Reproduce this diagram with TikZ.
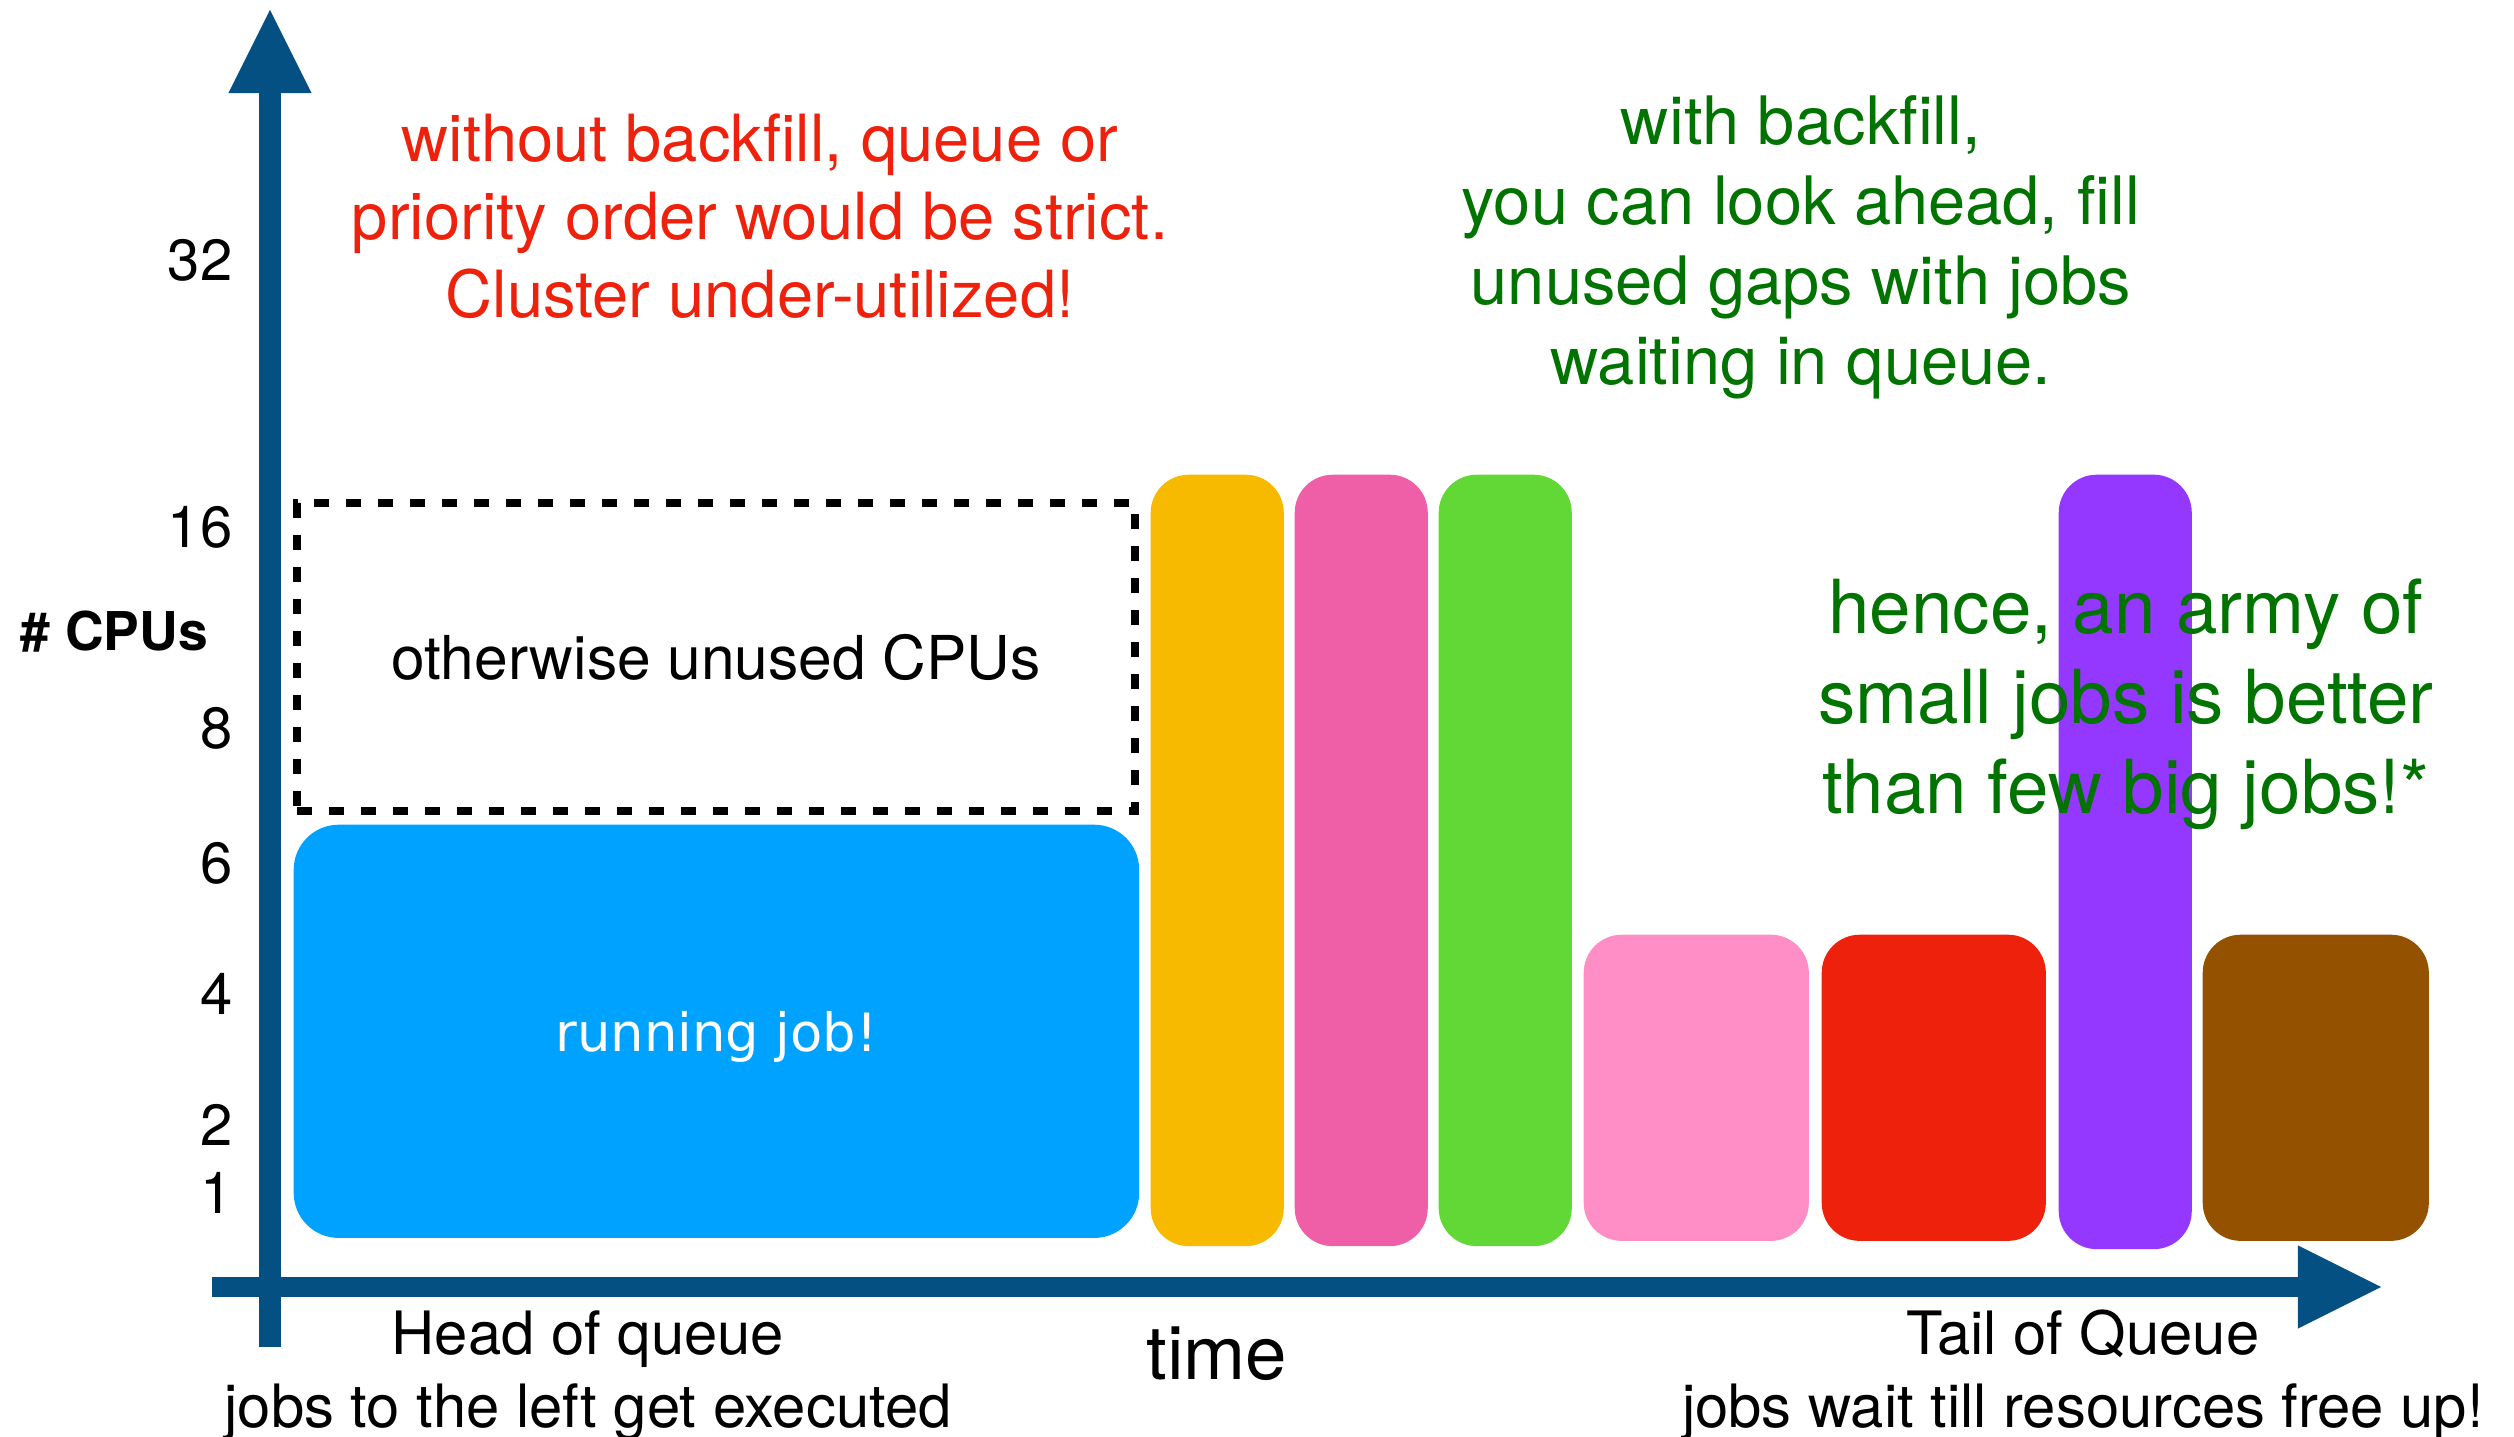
\documentclass[tikz,border=0pt]{standalone}
\usepackage{fontspec}
\setmainfont{TeX Gyre Heros}[Ligatures=NoCommon]
\newfontfamily\jobfont{DejaVu Sans}
\usepackage{tikz}
\usetikzlibrary{arrows.meta}
\definecolor{axisblue}{RGB}{4,80,130}
\definecolor{runblue}{RGB}{0,162,255}
\definecolor{jobyellow}{RGB}{248,186,0}
\definecolor{jobmagenta}{RGB}{239,95,167}
\definecolor{jobgreen}{RGB}{97,216,54}
\definecolor{jobpink}{RGB}{255,142,198}
\definecolor{jobred}{RGB}{238,34,12}
\definecolor{jobpurple}{RGB}{148,55,255}
\definecolor{jobbrown}{RGB}{148,82,0}
\definecolor{notered}{RGB}{238,34,12}
\definecolor{notegreen}{RGB}{0,115,0}
\tikzset{>=latex}
\tikzstyle{axis} = [draw=axisblue, line width=0.21cm, -{Triangle[length=0.83cm, width=0.83cm, line width=0pt]}]
\tikzstyle{job} = [rectangle, rounded corners=0.38cm, inner sep=0pt, anchor=north west]
\tikzstyle{tick} = [inner sep=0pt, anchor=east, font=\fontsize{16.5pt}{18pt}\selectfont]
\tikzstyle{lbl} = [inner sep=0pt, align=center, anchor=base]

\begin{document}
\begin{tikzpicture}[x=0.01cm, y=-0.01cm]
\useasboundingbox (0,0) rectangle (2514,1437);
% axes
\coordinate (ybot) at (270,1347);
\coordinate (ytop) at (270,10);
\coordinate (xleft) at (212,1287);
\coordinate (xright) at (2381,1287);
\draw [axis] (ybot) to (ytop);
\draw [axis, line width=0.2cm] (xleft) to (xright);
% cpu ticks
\node [tick] (t32) at (233,260) {32};
\node [tick] (t16) at (233,527) {16};
\node [tick] (t8) at (233,728) {8};
\node [tick] (t6) at (233,863) {6};
\node [tick] (t4) at (233,994) {4};
\node [tick] (t2) at (233,1125) {2};
\node [tick] (t1) at (233,1193) {1};
\node [inner sep=0pt, anchor=west, font=\bfseries\fontsize{15.2pt}{17pt}\selectfont] (cpus) at (20,632) {\# CPUs};
% jobs
\node [rectangle, draw=black, line width=0.08cm, dash pattern=on 0.15cm off 0.17cm, minimum width=8.38cm, minimum height=3.08cm, inner sep=0pt, font=\fontsize{17.2pt}{20pt}\selectfont] (unused) at (716,657) {otherwise unused CPUs};
\node [job, fill=runblue, rounded corners=0.45cm, minimum width=8.45cm, minimum height=4.13cm, text=white, text depth=0pt, font=\jobfont\fontsize{15pt}{17pt}\selectfont] (run) at (293,824) {running job!};
\node [job, fill=jobyellow, minimum width=1.33cm, minimum height=7.71cm] (jobA) at (1150,474) {};
\node [job, fill=jobmagenta, minimum width=1.33cm, minimum height=7.71cm] (jobB) at (1294,474) {};
\node [job, fill=jobgreen, minimum width=1.33cm, minimum height=7.71cm] (jobC) at (1438,474) {};
\node [job, fill=jobpink, minimum width=2.25cm, minimum height=3.06cm] (jobD) at (1583,934) {};
\node [job, fill=jobred, minimum width=2.24cm, minimum height=3.06cm] (jobE) at (1821,934) {};
\node [job, fill=jobpurple, minimum width=1.33cm, minimum height=7.74cm] (jobF) at (2058,474) {};
\node [job, fill=jobbrown, minimum width=2.26cm, minimum height=3.06cm] (jobG) at (2202,934) {};
% notes
\node [lbl, text=notered, font=\fontsize{18.5pt}{22.2pt}\selectfont] (nofill) at (760,318) {without backfill, queue or\\priority order would be strict.\\Cluster under-utilized!};
\node [lbl, text=notegreen, font=\fontsize{19pt}{22.8pt}\selectfont] (withfill) at (1801,385) {with backfill,\\you can look ahead, fill\\unused gaps with jobs\\waiting in queue.};
\node [lbl, text=notegreen, font=\fontsize{21.2pt}{25.6pt}\selectfont] (hence) at (2126,814) {hence, an army of\\small jobs is better\\than few big jobs!*};
% time axis labels
\node [lbl, font=\fontsize{21.2pt}{24pt}\selectfont] (time) at (1217,1379) {time};
\node [lbl, font=\fontsize{17pt}{20.5pt}\selectfont] (head) at (588,1427) {Head of queue\\jobs to the left get executed};
\node [lbl, font=\fontsize{17pt}{20.5pt}\selectfont] (tail) at (2083,1427) {Tail of Queue\\jobs wait till resources free up!};
\end{tikzpicture}
\end{document}
